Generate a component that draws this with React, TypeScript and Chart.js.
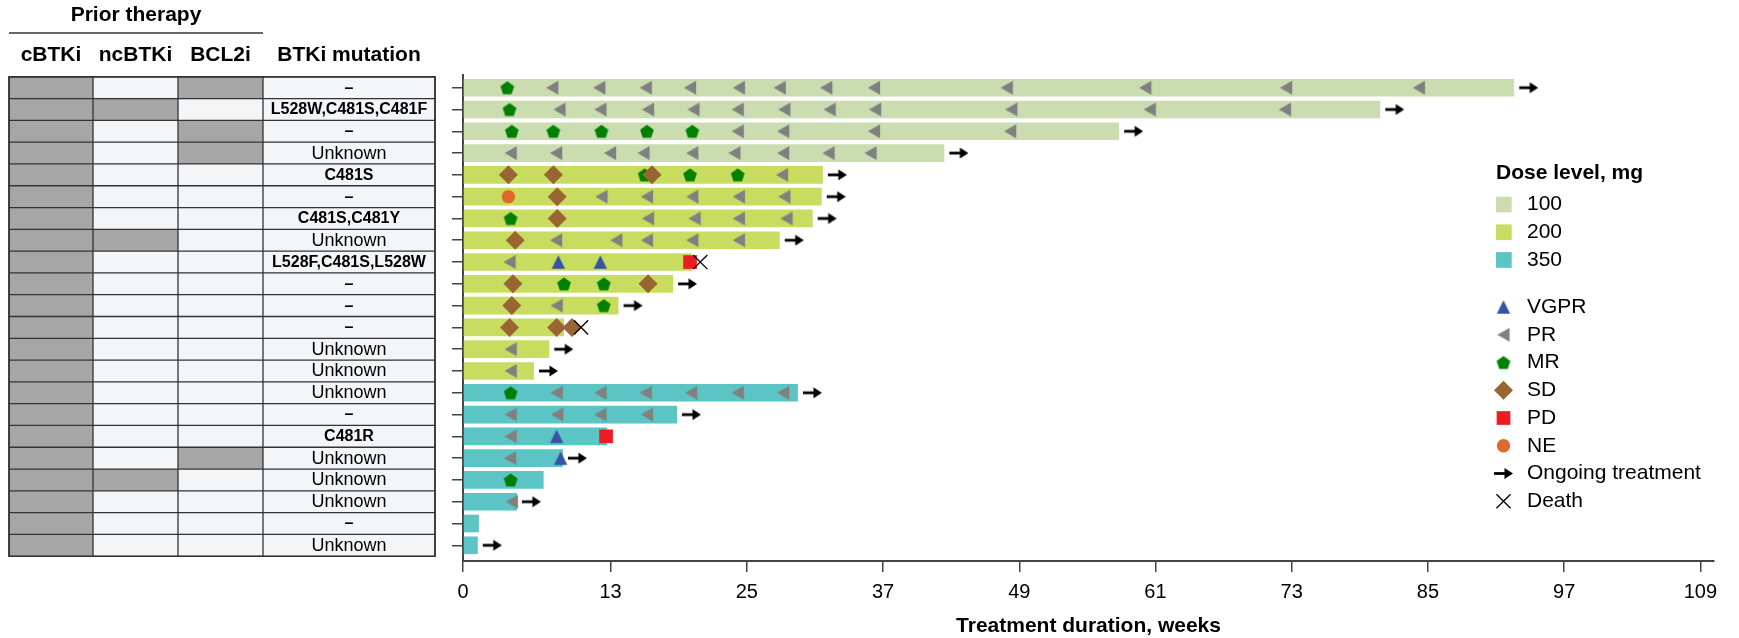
import { useEffect, useRef } from 'react';
import { Chart, registerables } from 'chart.js';
import { drawPoint } from 'chart.js/helpers';

Chart.register(...registerables);

const FONT = '"Liberation Sans", Arial, Helvetica, sans-serif';

// ---------------- data ----------------
const patientRows = [0, 1, 2, 3, 4, 5, 6, 7, 8, 9, 10, 11, 12, 13, 14, 15, 16, 17, 18, 19, 20, 21];
const doseLevels = ['100', '200', '350'];
const doseColors = ['#cbdcb0', '#c8dc60', '#5bc4c4'];
const rowDoseIndex = [0, 0, 0, 0, 1, 1, 1, 1, 1, 1, 1, 1, 1, 1, 2, 2, 2, 2, 2, 2, 2, 2];
const durationWeeks = [92.6, 80.8, 57.8, 42.4, 31.7, 31.6, 30.8, 27.9, 20.15, 18.5, 13.7, 8.9, 7.6, 6.25, 29.5, 18.85, 12.7, 8.8, 7.1, 4.75, 1.4, 1.3];
const ongoingRows = [0, 1, 2, 3, 4, 5, 6, 7, 9, 10, 12, 13, 14, 15, 17, 19, 21];
const deathRows = [8, 11];
const deathWeeks = [20.9, 10.4];
const xTickValues = [0, 13, 25, 37, 49, 61, 73, 85, 97, 109];

const vgprByRow: number[][] = [[], [], [], [], [], [], [], [], [8.4, 12.1], [], [], [], [], [], [], [], [8.25], [8.6], [], [], [], []];
const prByRow: number[][] = [
  [7.86, 12.0, 16.1, 20.0, 24.3, 27.9, 32.0, 36.2, 47.9, 60.1, 72.5, 84.2],
  [8.5, 12.1, 16.3, 20.3, 24.2, 28.3, 32.3, 36.3, 48.3, 60.5, 72.4],
  [24.2, 28.2, 36.2, 48.2],
  [4.2, 8.2, 12.95, 15.9, 20.2, 23.9, 28.2, 32.2, 35.9],
  [28.1],
  [12.2, 16.2, 20.2, 24.3, 28.3],
  [16.3, 20.4, 24.3, 28.5],
  [8.2, 13.5, 16.2, 20.2, 24.3],
  [4.1],
  [],
  [8.25],
  [],
  [4.2],
  [4.2],
  [8.25, 12.1, 16.1, 20.1, 24.2, 28.2],
  [4.2, 8.3, 12.1, 16.2],
  [4.2],
  [4.15],
  [],
  [4.3],
  [],
  [],
];
const mrByRow: number[][] = [[3.9], [4.1], [4.3, 7.96, 12.2, 16.2, 20.2], [], [16.0, 20.0, 24.2], [], [4.2], [], [], [8.9, 12.4], [12.4], [], [], [], [4.2], [], [], [], [4.2], [], [], []];
const sdByRow: number[][] = [[], [], [], [], [4.0, 7.96, 16.65], [8.3], [8.3], [4.6], [], [4.4, 16.3], [4.3], [4.1, 8.25, 9.6], [], [], [], [], [], [], [], [], [], []];
const pdByRow: number[][] = [[], [], [], [], [], [], [], [], [20.0], [], [], [], [], [], [], [], [12.6], [], [], [], [], []];
const neByRow: number[][] = [[], [], [], [], [], [4.0], [], [], [], [], [], [], [], [], [], [], [], [], [], [], [], []];

const priorCBTKi = [1, 1, 1, 1, 1, 1, 1, 1, 1, 1, 1, 1, 1, 1, 1, 1, 1, 1, 1, 1, 1, 1];
const priorNcBTKi = [0, 1, 0, 0, 0, 0, 0, 1, 0, 0, 0, 0, 0, 0, 0, 0, 0, 0, 1, 0, 0, 0];
const priorBCL2i = [1, 0, 1, 1, 0, 0, 0, 0, 0, 0, 0, 0, 0, 0, 0, 0, 0, 1, 0, 0, 0, 0];
const mutations = [
  '–', 'L528W,C481S,C481F', '–', 'Unknown', 'C481S', '–', 'C481S,C481Y', 'Unknown',
  'L528F,C481S,L528W', '–', '–', '–', 'Unknown', 'Unknown', 'Unknown', '–', 'C481R',
  'Unknown', 'Unknown', 'Unknown', '–', 'Unknown',
];
const tableHeaders = ['cBTKi', 'ncBTKi', 'BCL2i', 'BTKi mutation'];

// ---------------- marker images ----------------
const COLORS = {
  vgpr: '#3953a4',
  pr: '#808080',
  mr: '#008000',
  sd: '#996633',
  pd: '#ed1c24',
  ne: '#dd6a2a',
};

function makeImage(w: number, h: number, draw: (ctx: CanvasRenderingContext2D) => void) {
  const c = document.createElement('canvas');
  c.width = w;
  c.height = h;
  const ctx = c.getContext('2d')!;
  draw(ctx);
  return c;
}

function pentagonPath(ctx: CanvasRenderingContext2D, cx: number, cyBox: number, R: number) {
  const cy = cyBox + (R - R * Math.cos(Math.PI / 5)) / 2;
  ctx.beginPath();
  for (let k = 0; k < 5; k++) {
    const a = -Math.PI / 2 + (k * 2 * Math.PI) / 5;
    const px = cx + R * Math.cos(a);
    const py = cy + R * Math.sin(a);
    if (k === 0) ctx.moveTo(px, py);
    else ctx.lineTo(px, py);
  }
  ctx.closePath();
}

function drawArrow(ctx: CanvasRenderingContext2D, x0: number, y: number) {
  ctx.save();
  ctx.fillStyle = '#000';
  ctx.strokeStyle = '#000';
  ctx.lineWidth = 2.8;
  ctx.beginPath();
  ctx.moveTo(x0, y);
  ctx.lineTo(x0 + 12, y);
  ctx.stroke();
  ctx.beginPath();
  ctx.moveTo(x0 + 19, y);
  ctx.lineTo(x0 + 10.5, y - 5.5);
  ctx.lineTo(x0 + 10.5, y + 5.5);
  ctx.closePath();
  ctx.fill();
  ctx.restore();
}

function buildImages() {
  const pentagon = makeImage(16, 16, (ctx) => {
    pentagonPath(ctx, 8, 8, 7.2);
    ctx.fillStyle = COLORS.mr;
    ctx.fill();
  });
  const triUp = makeImage(16, 16, (ctx) => {
    ctx.beginPath();
    ctx.moveTo(8, 1.3);
    ctx.lineTo(14.7, 14.7);
    ctx.lineTo(1.3, 14.7);
    ctx.closePath();
    ctx.fillStyle = COLORS.vgpr;
    ctx.fill();
  });
  const triLeft = makeImage(16, 16, (ctx) => {
    ctx.beginPath();
    ctx.moveTo(1.9, 8);
    ctx.lineTo(14.1, 1);
    ctx.lineTo(14.1, 15);
    ctx.closePath();
    ctx.fillStyle = COLORS.pr;
    ctx.fill();
  });
  const arrow = makeImage(48, 14, (ctx) => {
    drawArrow(ctx, 24 + 5, 7);
  });
  return { pentagon, triUp, triLeft, arrow };
}

function toPoints(byRow: number[][]) {
  const pts: { x: number; y: number }[] = [];
  byRow.forEach((weeks, r) => weeks.forEach((w) => pts.push({ x: w, y: r })));
  return pts;
}

// ---------------- plugins ----------------
const COL_EDGES = [9, 93, 178, 263, 435];

const tablePlugin = {
  id: 'priorTable',
  afterDraw(chart: any) {
    const ctx: CanvasRenderingContext2D = chart.ctx;
    const y = chart.scales.y;
    ctx.save();
    // headers
    ctx.fillStyle = '#000';
    ctx.textAlign = 'center';
    ctx.textBaseline = 'middle';
    ctx.font = `bold 21px ${FONT}`;
    ctx.fillText('Prior therapy', (COL_EDGES[0] + COL_EDGES[3]) / 2, 15);
    ctx.strokeStyle = '#333';
    ctx.lineWidth = 1.5;
    ctx.beginPath();
    ctx.moveTo(COL_EDGES[0], 33);
    ctx.lineTo(COL_EDGES[3], 33);
    ctx.stroke();
    tableHeaders.forEach((h, c) => {
      ctx.fillText(h, (COL_EDGES[c] + COL_EDGES[c + 1]) / 2, 55);
    });

    const cols = [priorCBTKi, priorNcBTKi, priorBCL2i];
    const top = y.getPixelForValue(-0.5);
    const bottom = y.getPixelForValue(patientRows.length - 0.5);
    patientRows.forEach((r) => {
      const t = y.getPixelForValue(r - 0.5);
      const b = y.getPixelForValue(r + 0.5);
      for (let c = 0; c < 4; c++) {
        const filled = c < 3 && cols[c][r] === 1;
        ctx.fillStyle = filled ? '#a6a6a6' : '#f4f5f7';
        ctx.fillRect(COL_EDGES[c], t, COL_EDGES[c + 1] - COL_EDGES[c], b - t);
      }
      const m = mutations[r];
      ctx.fillStyle = '#000';
      ctx.font = m === 'Unknown' ? `18px ${FONT}` : `bold 16px ${FONT}`;
      ctx.fillText(m, (COL_EDGES[3] + COL_EDGES[4]) / 2, (t + b) / 2 + 0.5);
    });
    ctx.strokeStyle = '#333';
    ctx.lineWidth = 1.3;
    ctx.beginPath();
    patientRows.forEach((r) => {
      const t = y.getPixelForValue(r - 0.5);
      ctx.moveTo(COL_EDGES[0], t);
      ctx.lineTo(COL_EDGES[4], t);
    });
    COL_EDGES.forEach((x) => {
      ctx.moveTo(x, top);
      ctx.lineTo(x, bottom);
    });
    ctx.stroke();
    ctx.lineWidth = 1.6;
    ctx.strokeRect(COL_EDGES[0], top, COL_EDGES[4] - COL_EDGES[0], bottom - top);
    ctx.restore();
  },
};

function makeLegendPlugin(images: ReturnType<typeof buildImages>) {
  return {
    id: 'customLegend',
    afterDraw(chart: any) {
      const ctx: CanvasRenderingContext2D = chart.ctx;
      ctx.save();
      const x0 = 1496;
      const tx = 1527;
      ctx.fillStyle = '#000';
      ctx.textAlign = 'left';
      ctx.textBaseline = 'middle';
      ctx.font = `bold 21px ${FONT}`;
      ctx.fillText('Dose level, mg', x0, 173.5);
      ctx.font = `21px ${FONT}`;
      doseLevels.forEach((lbl, i) => {
        const cy = 204.5 + i * 27.7;
        ctx.fillStyle = doseColors[i];
        ctx.fillRect(x0, cy - 7.8, 15.7, 15.7);
        ctx.fillStyle = '#000';
        ctx.fillText(lbl, tx, cy);
      });
      const mx = 1503.5;
      const items: { label: string; draw: (y: number) => void }[] = [
        { label: 'VGPR', draw: (yy) => ctx.drawImage(images.triUp, mx - 8, yy - 8) },
        { label: 'PR', draw: (yy) => ctx.drawImage(images.triLeft, mx - 8, yy - 8) },
        { label: 'MR', draw: (yy) => ctx.drawImage(images.pentagon, mx - 8, yy - 8) },
        {
          label: 'SD',
          draw: (yy) => {
            ctx.fillStyle = COLORS.sd;
            drawPoint(ctx, { pointStyle: 'rectRot', radius: 9.5, rotation: 0, borderWidth: 0 } as any, mx, yy);
          },
        },
        {
          label: 'PD',
          draw: (yy) => {
            ctx.fillStyle = COLORS.pd;
            drawPoint(ctx, { pointStyle: 'rect', radius: 9.7, rotation: 0, borderWidth: 0 } as any, mx, yy);
          },
        },
        {
          label: 'NE',
          draw: (yy) => {
            ctx.fillStyle = COLORS.ne;
            drawPoint(ctx, { pointStyle: 'circle', radius: 6.7, rotation: 0, borderWidth: 0 } as any, mx, yy);
          },
        },
        { label: 'Ongoing treatment', draw: (yy) => drawArrow(ctx, mx - 9.5, yy) },
        {
          label: 'Death',
          draw: (yy) => {
            ctx.strokeStyle = '#000';
            ctx.lineWidth = 1.3;
            drawPoint(ctx, { pointStyle: 'crossRot', radius: 10, rotation: 0, borderWidth: 1.3 } as any, mx, yy);
          },
        },
      ];
      items.forEach((it, i) => {
        const cy = 307 + i * 27.75;
        ctx.save();
        it.draw(cy);
        ctx.restore();
        ctx.fillStyle = '#000';
        ctx.font = `21px ${FONT}`;
        ctx.fillText(it.label, tx, cy);
      });
      ctx.restore();
    },
  };
}

export default function App() {
  const ref = useRef<HTMLCanvasElement | null>(null);

  useEffect(() => {
    if (!ref.current) return;
    const images = buildImages();

    const barSets = doseLevels.map((lbl, d) => ({
      type: 'bar' as const,
      label: lbl + ' mg',
      indexAxis: 'y' as const,
      data: patientRows.filter((r) => rowDoseIndex[r] === d).map((r) => ({ x: durationWeeks[r], y: r })),
      backgroundColor: doseColors[d],
      borderWidth: 0,
      grouped: false,
      barPercentage: 0.81,
      categoryPercentage: 1,
      order: 10,
    }));

    const scatter = (label: string, data: any[], extra: any, order: number) => ({
      type: 'scatter' as const,
      label,
      data,
      pointRadius: 7,
      pointBorderWidth: 0,
      order,
      ...extra,
    });

    const chart = new Chart(ref.current, {
      type: 'scatter',
      data: {
        datasets: [
          ...barSets,
          scatter('VGPR', toPoints(vgprByRow), { pointStyle: images.triUp }, 5),
          scatter('PR', toPoints(prByRow), { pointStyle: images.triLeft }, 5),
          scatter('MR', toPoints(mrByRow), { pointStyle: images.pentagon }, 4),
          scatter('SD', toPoints(sdByRow), { pointStyle: 'rectRot', pointRadius: 9.5, backgroundColor: COLORS.sd, borderColor: COLORS.sd }, 3),
          scatter('PD', toPoints(pdByRow), { pointStyle: 'rect', pointRadius: 9.7, backgroundColor: COLORS.pd, borderColor: COLORS.pd }, 2),
          scatter('NE', toPoints(neByRow), { pointStyle: 'circle', pointRadius: 6.7, backgroundColor: COLORS.ne, borderColor: COLORS.ne }, 3),
          scatter(
            'Ongoing treatment',
            ongoingRows.map((r) => ({ x: durationWeeks[r], y: r })),
            { pointStyle: images.arrow },
            1
          ),
          scatter(
            'Death',
            deathRows.map((r, i) => ({ x: deathWeeks[i], y: r })),
            { pointStyle: 'crossRot', pointRadius: 10, pointBorderWidth: 1.3, borderColor: '#000', backgroundColor: '#000' },
            1
          ),
        ] as any,
      },
      options: {
        animation: false,
        responsive: false,
        events: [],
        layout: { padding: { left: 452, top: 75, right: 25, bottom: 0 } },
        plugins: { legend: { display: false }, tooltip: { enabled: false } },
        scales: {
          x: {
            type: 'linear',
            position: 'bottom',
            offset: false,
            min: 0,
            max: 110.2,
            afterBuildTicks: (s: any) => {
              s.ticks = xTickValues.map((v) => ({ value: v }));
            },
            afterFit: (s: any) => {
              s.height = 77;
            },
            ticks: {
              color: '#000',
              font: { family: FONT, size: 20 },
              padding: 8,
              autoSkip: false,
              maxRotation: 0,
            },
            grid: { offset: false, drawOnChartArea: false, drawTicks: true, tickLength: 11, color: '#444', lineWidth: 1.5 },
            border: { color: '#444', width: 2 },
            title: {
              display: true,
              text: 'Treatment duration, weeks',
              color: '#000',
              font: { family: FONT, size: 21, weight: 'bold' },
              padding: { top: 0, bottom: -1 },
            },
          },
          y: {
            type: 'linear',
            position: 'left',
            offset: false,
            reverse: true,
            min: -0.583,
            max: 21.72,
            afterBuildTicks: (s: any) => {
              s.ticks = patientRows.map((v) => ({ value: v }));
            },
            ticks: { display: false },
            grid: { offset: false, drawOnChartArea: false, drawTicks: true, tickLength: 11, color: '#444', lineWidth: 1.5 },
            border: { color: '#444', width: 2 },
          },
        },
      } as any,
      plugins: [tablePlugin, makeLegendPlugin(images)],
    });
    return () => chart.destroy();
  }, []);

  return (
    <div style={{ position: 'fixed', left: 0, top: 0, width: 1739, height: 638, background: '#fff' }}>
      <canvas ref={ref} width={1739} height={638} style={{ display: 'block', width: 1739, height: 638 }} />
    </div>
  );
}
